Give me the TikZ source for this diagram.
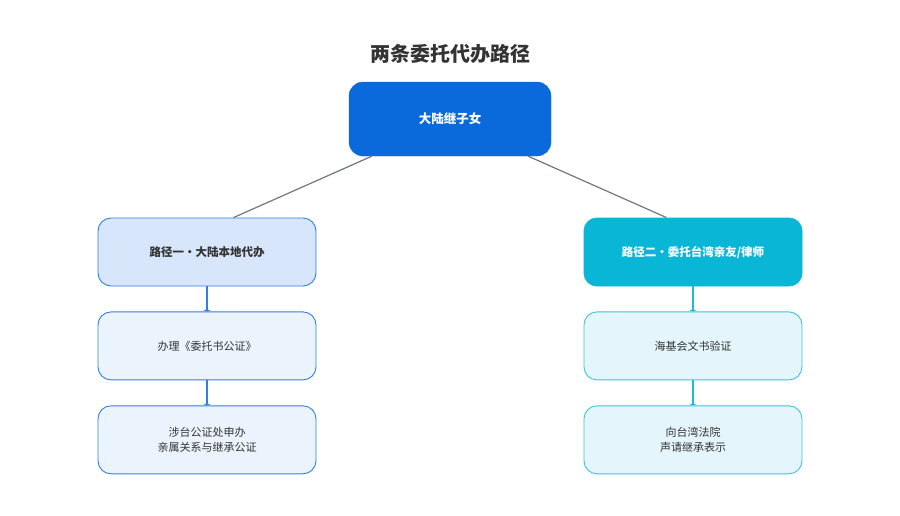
\documentclass[tikz,border=0pt]{standalone}
\usepackage{fontspec}
\setmainfont{Noto Sans CJK SC}
\usetikzlibrary{positioning, arrows.meta}

\definecolor{rootblue}{HTML}{0A6ADB}
\definecolor{lineblue}{HTML}{2F80E4}
\definecolor{fillblue}{HTML}{D7E6FA}
\definecolor{paleblue}{HTML}{EBF3FC}
\definecolor{cyanfill}{HTML}{0AB6D6}
\definecolor{linecyan}{HTML}{3CC4DE}
\definecolor{arrowcyan}{HTML}{1FB9D8}
\definecolor{palecyan}{HTML}{E4F6FB}
\definecolor{linkgray}{HTML}{6E7681}
\definecolor{textdark}{HTML}{333333}

\tikzset{
    box/.style={draw, rounded corners=13pt, minimum width=218pt, minimum height=68pt,
        align=center, font=\fontsize{11}{15}\selectfont, text=textdark, line width=0.9pt},
    left head/.style={box, fill=fillblue, draw=lineblue, font=\fontsize{11.5}{15}\bfseries},
    left item/.style={box, fill=paleblue, draw=lineblue},
    right head/.style={box, fill=cyanfill, draw=cyanfill, text=white, font=\fontsize{11.5}{15}\bfseries},
    right item/.style={box, fill=palecyan, draw=linecyan},
}

\begin{document}
\begin{tikzpicture}[x=1pt, y=-1pt]
        \useasboundingbox (0,0) rectangle (900,515);

        \node[font=\fontsize{20}{22}\bfseries, text=textdark] (title) at (450,54) {两条委托代办路径};
        \node[draw=rootblue, fill=rootblue, rounded corners=14pt, minimum width=202pt,
            minimum height=74pt, text=white, font=\fontsize{12.5}{15}\bfseries] (root) at (450,119) {大陆继子女};

        \node[left head] (box l1) at (207,252) {路径一・大陆本地代办};
        \node[left item, below=25pt of box l1] (box l2) {办理《委托书公证》};
        \node[left item, below=25pt of box l2] (box l3) {涉台公证处申办\\亲属关系与继承公证};

        \node[right head] (box r1) at (693,252) {路径二・委托台湾亲友/律师};
        \node[right item, below=25pt of box r1] (box r2) {海基会文书验证};
        \node[right item, below=25pt of box r2] (box r3) {向台湾法院\\声请继承表示};

        \draw[linkgray, line width=1.2pt] ([xshift=23pt]root.south west) -- ([xshift=136pt]box l1.north west);
        \draw[linkgray, line width=1.2pt] ([xshift=-23pt]root.south east) -- ([xshift=-136pt]box r1.north east);

        \draw[lineblue, line width=1.2pt, -{Triangle[length=1.5pt,width=8pt]}] (box l1) -- (box l2);
        \draw[lineblue, line width=1.2pt, -{Triangle[length=1.5pt,width=8pt]}] (box l2) -- (box l3);
        \draw[arrowcyan, line width=1.3pt, -{Triangle[length=1.5pt,width=8pt]}] (box r1) -- (box r2);
        \draw[arrowcyan, line width=1.3pt, -{Triangle[length=1.5pt,width=8pt]}] (box r2) -- (box r3);

    \end{tikzpicture}
\end{document}
